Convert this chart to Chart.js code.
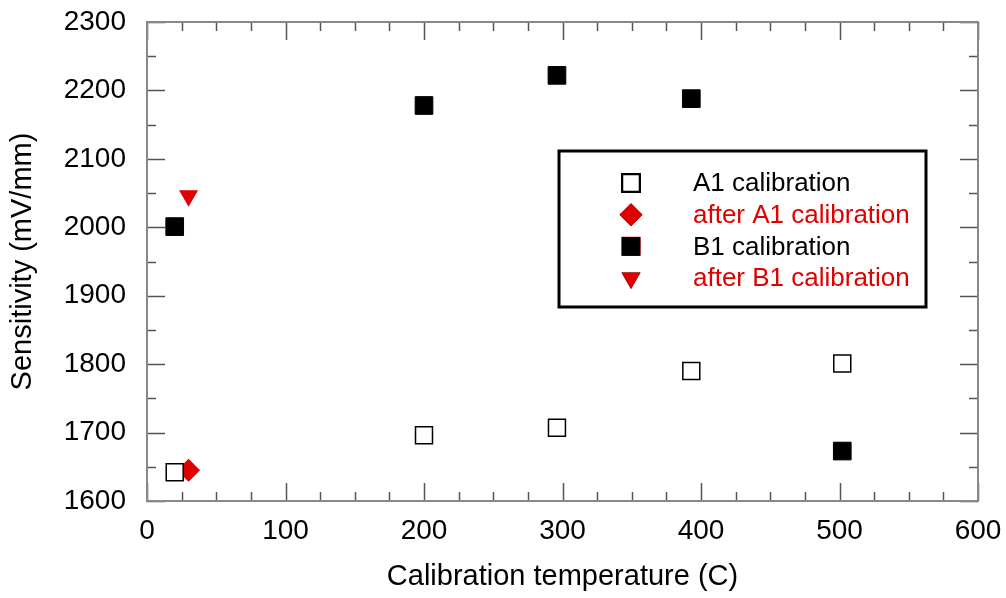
<!DOCTYPE html>
<html lang="en">

<head>
    <meta charset="UTF-8">
    <title>Sensitivity vs calibration temperature</title>
    <style>
        body { margin: 0; background: #fff; }
        #wrap { width: 1006px; height: 598px; }
    </style>
</head>

<body>
    <div id="wrap">
        <canvas id="myChart" width="1006" height="598"></canvas>
    </div>

    <script src="https://cdn.jsdelivr.net/npm/chart.js"></script>

    <script>

        // values
        var a1Temp = [20, 200, 296, 393, 502];
        var a1Sens = [1642, 1696, 1707, 1790, 1801];

        var afterA1Temp = [30];
        var afterA1Sens = [1645];

        var b1Temp = [20, 200, 296, 393, 502];
        var b1Sens = [2001, 2178, 2222, 2188, 1673];

        var afterB1Temp = [30];
        var afterB1Sens = [2046];

        var xTicks = [0, 100, 200, 300, 400, 500, 600];
        var yTicks = [1600, 1700, 1800, 1900, 2000, 2100, 2200, 2300];

        var RED = "#e00000";
        var FONT = "'Liberation Sans', Arial, sans-serif";

        function pts(xs, ys) {
            var out = [];
            xs.forEach((x, i) => out.push({x: x, y: ys[i]}));
            return out;
        }

        // inward ticks on all four sides plus the frame
        var frameTicks = {
            id: "frameTicks",
            afterDraw(chart) {
                var ctx = chart.ctx;
                var a = chart.chartArea;
                var xs = chart.scales.x, ys = chart.scales.y;
                ctx.save();
                ctx.strokeStyle = "#555";
                ctx.lineWidth = 1.5;
                for (var v = 0; v <= 600; v += 25) {
                    var px = Math.round(xs.getPixelForValue(v)) + 0.5;
                    var len = (v % 100 === 0) ? 18 : 9;
                    ctx.beginPath();
                    ctx.moveTo(px, a.bottom); ctx.lineTo(px, a.bottom - len);
                    ctx.moveTo(px, a.top); ctx.lineTo(px, a.top + len);
                    ctx.stroke();
                }
                for (var w = 1600; w <= 2300; w += 50) {
                    var py = Math.round(ys.getPixelForValue(w)) + 0.5;
                    var l2 = (w % 100 === 0) ? 18 : 9;
                    ctx.beginPath();
                    ctx.moveTo(a.left, py); ctx.lineTo(a.left + l2, py);
                    ctx.moveTo(a.right, py); ctx.lineTo(a.right - l2, py);
                    ctx.stroke();
                }
                ctx.strokeStyle = "#888";
                ctx.lineWidth = 2;
                ctx.strokeRect(a.left, a.top, a.right - a.left, a.bottom - a.top);
                ctx.restore();
            }
        };

        // boxed legend inside the plot area
        var boxLegend = {
            id: "boxLegend",
            afterDraw(chart) {
                var ctx = chart.ctx;
                var left = 559, top = 151, right = 926, bottom = 307;
                ctx.save();
                ctx.strokeStyle = "#000";
                ctx.lineWidth = 3;
                ctx.strokeRect(left, top, right - left, bottom - top);
                ctx.font = "26px " + FONT;
                ctx.textBaseline = "middle";
                ctx.textAlign = "left";
                chart.data.datasets.forEach((ds, i) => {
                    var y = 183 + i * 31.7;
                    Chart.helpers.drawPoint(ctx, {
                        pointStyle: ds.pointStyle,
                        radius: ds.pointRadius,
                        rotation: ds.rotation || 0,
                        borderWidth: ds.borderWidth
                    }, 631, y);
                    ctx.fillStyle = ds.backgroundColor;
                    ctx.strokeStyle = ds.borderColor;
                    ctx.lineWidth = ds.borderWidth;
                    ctx.fill();
                    if (ds.borderWidth) ctx.stroke();
                    ctx.fillStyle = ds.labelColor;
                    ctx.fillText(ds.label, 693, y + 1);
                });
                ctx.restore();
            }
        };

        var chart = new Chart("myChart", {
            type: "scatter",
            data: {
                datasets: [{
                    label: "A1 calibration",
                    data: pts(a1Temp, a1Sens),
                    pointStyle: "rect",
                    pointRadius: 12,
                    backgroundColor: "#fff",
                    borderColor: "#000",
                    borderWidth: 1.5,
                    labelColor: "#000"
                },
                {
                    label: "after A1 calibration",
                    data: pts(afterA1Temp, afterA1Sens),
                    pointStyle: "rectRot",
                    pointRadius: 11.5,
                    backgroundColor: RED,
                    borderColor: RED,
                    borderWidth: 0,
                    labelColor: RED
                },
                {
                    label: "B1 calibration",
                    data: pts(b1Temp, b1Sens),
                    pointStyle: "rect",
                    pointRadius: 12.5,
                    backgroundColor: "#000",
                    borderColor: "#000",
                    borderWidth: 1,
                    labelColor: "#000"
                },
                {
                    label: "after B1 calibration",
                    data: pts(afterB1Temp, afterB1Sens),
                    pointStyle: "triangle",
                    rotation: 180,
                    pointRadius: 11,
                    backgroundColor: RED,
                    borderColor: RED,
                    borderWidth: 0,
                    labelColor: RED
                }]
            },
            options: {
                responsive: false,
                animation: false,
                devicePixelRatio: 1,
                layout: { padding: { top: 22, right: 28, left: 0, bottom: 0 } },
                plugins: {
                    legend: { display: false },
                    tooltip: { enabled: false }
                },
                scales: {
                    x: {
                        type: "linear",
                        min: 0, max: 600,
                        afterBuildTicks: s => { s.ticks = xTicks.map(v => ({value: v})); },
                        afterFit: s => { s.height = 97; s.paddingLeft = 0; s.paddingRight = 0; },
                        grid: { display: false, drawTicks: false },
                        border: { display: false },
                        ticks: {
                            color: "#000", padding: 13,
                            font: { family: FONT, size: 28 },
                            callback: v => String(v)
                        },
                        title: {
                            display: true,
                            text: "Calibration temperature (C)",
                            color: "#000",
                            font: { family: FONT, size: 29 },
                            padding: { top: 0, bottom: 4 }
                        }
                    },
                    y: {
                        type: "linear",
                        min: 1600, max: 2300,
                        afterBuildTicks: s => { s.ticks = yTicks.map(v => ({value: v})); },
                        afterFit: s => { s.width = 147; s.paddingTop = 0; s.paddingBottom = 0; },
                        grid: { display: false, drawTicks: false },
                        border: { display: false },
                        ticks: {
                            color: "#000", padding: 21,
                            font: { family: FONT, size: 28 },
                            callback: v => String(v)
                        },
                        title: {
                            display: true,
                            text: "Sensitivity (mV/mm)",
                            color: "#000",
                            font: { family: FONT, size: 29 },
                            padding: { top: 6, bottom: 0 }
                        }
                    }
                }
            },
            plugins: [frameTicks, boxLegend]
        });

    </script>
</body>

</html>
